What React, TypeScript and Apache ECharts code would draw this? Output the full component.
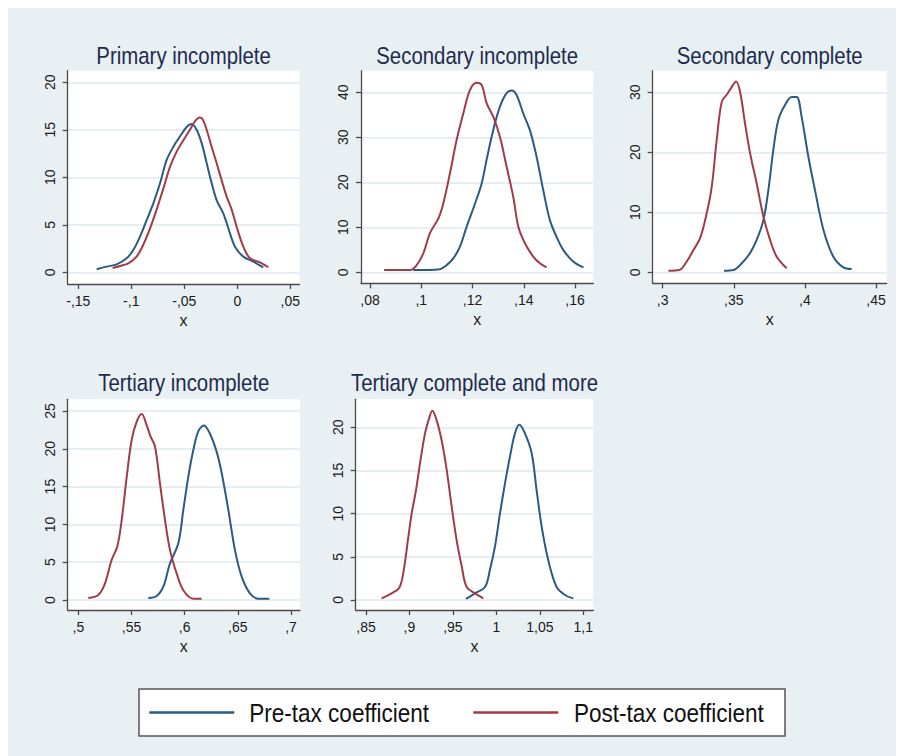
import React, { useEffect, useRef } from "react";
import * as echarts from "echarts";

// ---- data: kernel density of the coefficient, by education level ----
const panelTitles = [
  "Primary incomplete",
  "Secondary incomplete",
  "Secondary complete",
  "Tertiary incomplete",
  "Tertiary complete and more",
];

const seriesNames = ["Pre-tax coefficient", "Post-tax coefficient"];

const primaryIncompletePre: [number, number][] = [
  [-0.1327, 0.32], [-0.1233, 0.6], [-0.1138, 0.84], [-0.1044, 1.47], [-0.0981, 2.35],
  [-0.0918, 3.75], [-0.0855, 5.5], [-0.0792, 7.26], [-0.0729, 9.37], [-0.0667, 11.8],
  [-0.0604, 13.2], [-0.0541, 14.3], [-0.0478, 15.3], [-0.0431, 15.6], [-0.0384, 15.0],
  [-0.0336, 13.6], [-0.0289, 11.5], [-0.0242, 9.4], [-0.0195, 7.6], [-0.0132, 6.2],
  [-0.0069, 4.1], [-0.0022, 2.7], [0.0057, 1.65], [0.0151, 1.12], [0.0245, 0.53],
];
const primaryIncompletePost: [number, number][] = [
  [-0.1176, 0.46], [-0.1107, 0.67], [-0.1028, 0.95], [-0.095, 1.65], [-0.0887, 2.9],
  [-0.0824, 4.6], [-0.0761, 6.6], [-0.0698, 8.8], [-0.0635, 11.1], [-0.0572, 12.7],
  [-0.0509, 13.9], [-0.0447, 15.0], [-0.0399, 15.9], [-0.0358, 16.3], [-0.0327, 16.1],
  [-0.0289, 15.0], [-0.0242, 13.2], [-0.0195, 11.5], [-0.0148, 9.7], [-0.0101, 8.0],
  [-0.0053, 6.6], [-0.0006, 4.8], [0.0057, 2.7], [0.012, 1.47], [0.0214, 1.05], [0.0293, 0.53],
];

const secondaryIncompletePre: [number, number][] = [
  [0.0969, 0.5], [0.1073, 0.7], [0.1099, 1.6], [0.1125, 3.1], [0.1151, 5.7],
  [0.1177, 10.1], [0.121, 15.3], [0.1236, 19.8], [0.1255, 25.0], [0.1281, 31.6],
  [0.1307, 36.8], [0.1333, 39.8], [0.1353, 40.4], [0.1372, 39.4], [0.1398, 35.3],
  [0.1424, 31.6], [0.145, 25.7], [0.1476, 18.3], [0.1502, 11.6], [0.1528, 7.9],
  [0.1554, 5.0], [0.1593, 2.4], [0.1633, 1.1],
];
const secondaryIncompletePost: [number, number][] = [
  [0.0855, 0.5], [0.0956, 0.5], [0.0982, 1.6], [0.1008, 4.2], [0.1034, 8.7],
  [0.1067, 12.0], [0.1086, 15.3], [0.1112, 22.0], [0.1138, 29.4], [0.1164, 35.3],
  [0.119, 40.5], [0.1216, 42.1], [0.1236, 41.6], [0.1255, 37.6], [0.1281, 34.6],
  [0.1307, 30.1], [0.1333, 23.5], [0.1359, 16.8], [0.1379, 10.1], [0.1405, 6.4],
  [0.1437, 3.5], [0.1463, 2.0], [0.1489, 1.1],
];

const secondaryCompletePre: [number, number][] = [
  [0.3431, 0.28], [0.3497, 0.4], [0.3556, 1.5], [0.3614, 3.2], [0.3661, 5.4],
  [0.3708, 8.7], [0.3743, 13.7], [0.3778, 20.4], [0.3813, 25.4], [0.386, 27.9],
  [0.3907, 29.2], [0.3942, 29.2], [0.3977, 25.9], [0.4024, 19.3], [0.4071, 13.7],
  [0.413, 7.1], [0.42, 2.6], [0.427, 0.83], [0.4329, 0.56],
];
const secondaryCompletePost: [number, number][] = [
  [0.304, 0.28], [0.3117, 0.4], [0.3169, 1.8], [0.3216, 3.7], [0.3263, 5.7],
  [0.3309, 9.8], [0.3345, 14.3], [0.338, 22.1], [0.3415, 28.4], [0.345, 29.6],
  [0.3486, 30.9], [0.3516, 31.8], [0.3544, 30.1], [0.3579, 24.8], [0.3615, 19.8],
  [0.3661, 14.8], [0.3708, 9.3], [0.3755, 5.4], [0.3802, 2.6], [0.3872, 0.67],
];

const tertiaryIncompletePre: [number, number][] = [
  [0.5658, 0.26], [0.5737, 0.53], [0.5799, 1.76], [0.5862, 4.85], [0.594, 7.5],
  [0.5987, 11.9], [0.6034, 16.3], [0.6081, 19.8], [0.6128, 22.3], [0.6182, 23.1],
  [0.6238, 22.0], [0.6301, 19.6], [0.6348, 16.8], [0.6411, 11.9], [0.6473, 6.6],
  [0.6536, 3.1], [0.6614, 0.88], [0.6693, 0.18], [0.6796, 0.18],
];
const tertiaryIncompletePost: [number, number][] = [
  [0.5094, 0.26], [0.5188, 0.66], [0.5251, 2.2], [0.5313, 5.3], [0.5367, 7.1],
  [0.5408, 10.6], [0.5455, 16.3], [0.5502, 21.2], [0.5549, 23.6], [0.5596, 24.6],
  [0.5643, 23.1], [0.568, 21.6], [0.5721, 20.3], [0.5768, 15.4], [0.5815, 10.6],
  [0.5862, 6.6], [0.5925, 3.5], [0.5987, 1.3], [0.6082, 0.18], [0.616, 0.18],
];

const tertiaryCompletePre: [number, number][] = [
  [0.965, 0.12], [0.9754, 0.77], [0.9869, 1.5], [0.9926, 3.5], [0.9984, 6.2],
  [1.0041, 10.0], [1.0099, 13.5], [1.0156, 16.6], [1.0214, 19.3], [1.0264, 20.3],
  [1.0329, 19.3], [1.0406, 17.0], [1.0463, 12.7], [1.0521, 8.5], [1.0597, 4.6],
  [1.0693, 1.5], [1.0789, 0.58], [1.0885, 0.19],
];
const tertiaryCompletePost: [number, number][] = [
  [0.868, 0.19], [0.8795, 0.77], [0.8883, 1.43], [0.8929, 3.1], [0.8987, 7.3],
  [0.9025, 10.0], [0.9075, 12.7], [0.9121, 15.8], [0.9179, 19.3], [0.9225, 21.0],
  [0.9263, 21.9], [0.9313, 20.8], [0.937, 18.5], [0.9428, 15.1], [0.9486, 10.8],
  [0.9543, 6.9], [0.9601, 3.9], [0.9658, 1.5], [0.9754, 0.77], [0.985, 0.19],
];

// tick values per panel
const xTicks = [
  [-0.15, -0.1, -0.05, 0, 0.05],
  [0.08, 0.1, 0.12, 0.14, 0.16],
  [0.3, 0.35, 0.4, 0.45],
  [0.5, 0.55, 0.6, 0.65, 0.7],
  [0.85, 0.9, 0.95, 1, 1.05, 1.1],
];
const yTicks = [
  [0, 5, 10, 15, 20],
  [0, 10, 20, 30, 40],
  [0, 10, 20, 30],
  [0, 5, 10, 15, 20, 25],
  [0, 5, 10, 15, 20],
];

const preSeries = [
  primaryIncompletePre, secondaryIncompletePre, secondaryCompletePre,
  tertiaryIncompletePre, tertiaryCompletePre,
];
const postSeries = [
  primaryIncompletePost, secondaryIncompletePost, secondaryCompletePost,
  tertiaryIncompletePost, tertiaryCompletePost,
];

// ---- layout of the plot regions (pixels) and their axis extents ----
const panelBoxes = [
  { left: 59.7, top: 62.7, width: 231.8, height: 213.3, x: [-0.16, 0.0587], y: [-1.23, 21.22] },
  { left: 353, top: 62.7, width: 232.3, height: 212.6, x: [0.07649, 0.16714], y: [-2.44, 44.8] },
  { left: 644.7, top: 62.7, width: 234, height: 212.6, x: [0.29297, 0.45752], y: [-1.83, 33.6] },
  { left: 59.7, top: 391.3, width: 232.3, height: 210.7, x: [0.49, 0.70846], y: [-1.32, 26.55] },
  { left: 347.7, top: 391.3, width: 237.6, height: 210.7, x: [0.83815, 1.1115], y: [-1.16, 23.24] },
];

// legend box geometry
const legendBox = { x: 131, y: 681, width: 646, height: 47 };
const legendKeys = [
  { lineX: 141.3, textX: 241.3 },
  { lineX: 465.3, textX: 566 },
];
const KEY_LEN = 85;

const PRE_COLOR = "#2c5a84";
const POST_COLOR = "#a03c47";
const BG = "#e8f0f3";
const GRIDLINE = "#e6eef1";
const AXIS = "#4a4a4a";
const TITLE_COLOR = "#1f2b4e";
const FONT = '"Liberation Sans", Arial, Helvetica, sans-serif';
// the heading typeface is a condensed sans; emulate it by squeezing horizontally
const CONDENSE = 0.85;

// Stata-style numbers: comma decimal mark, no leading zero
function stataLabel(v: number): string {
  const r = Math.round(v * 1000) / 1000;
  if (r === 0) return "0";
  let s = String(Math.abs(r));
  if (s.startsWith("0")) s = s.slice(1);
  s = s.replace(".", ",");
  return (r < 0 ? "-" : "") + s;
}

function buildOption(): echarts.EChartsOption {
  const grid: any[] = [];
  const xAxis: any[] = [];
  const yAxis: any[] = [];
  const series: any[] = [];
  const graphic: any[] = [];

  panelBoxes.forEach((b, i) => {
    grid.push({
      left: b.left,
      top: b.top,
      width: b.width,
      height: b.height,
      show: true,
      backgroundColor: "#ffffff",
      borderWidth: 0,
      containLabel: false,
      outerBoundsMode: "none",
    });
    xAxis.push({
      type: "value",
      gridIndex: i,
      min: b.x[0],
      max: b.x[1],
      axisLine: { show: true, onZero: false, lineStyle: { color: AXIS, width: 1.3 } },
      axisTick: { show: true, length: 5, customValues: xTicks[i], lineStyle: { color: AXIS, width: 1.3 } },
      axisLabel: {
        customValues: xTicks[i],
        formatter: (v: number) => stataLabel(v),
        fontSize: 14,
        fontFamily: FONT,
        color: "#1a1a1a",
        margin: 10,
      },
      splitLine: { show: false },
      name: "x",
      nameLocation: "middle",
      nameGap: 28,
      nameTextStyle: { fontSize: 16, fontFamily: FONT, color: "#1a1a1a" },
    });
    yAxis.push({
      type: "value",
      gridIndex: i,
      min: b.y[0],
      max: b.y[1],
      axisLine: { show: true, onZero: false, lineStyle: { color: AXIS, width: 1.3 } },
      axisTick: { show: true, length: 5, customValues: yTicks[i], lineStyle: { color: AXIS, width: 1.3 } },
      axisLabel: {
        customValues: yTicks[i],
        formatter: (v: number) => stataLabel(v),
        rotate: 90,
        fontSize: 14,
        fontFamily: FONT,
        color: "#1a1a1a",
        margin: 11,
      },
      splitLine: { show: true, lineStyle: { color: GRIDLINE, width: 2 } },
    });
    series.push({
      name: seriesNames[0],
      type: "line",
      xAxisIndex: i,
      yAxisIndex: i,
      data: preSeries[i],
      color: PRE_COLOR,
      showSymbol: false,
      symbol: "none",
      smooth: 0.35,
      lineStyle: { width: 2, color: PRE_COLOR },
      z: 3,
    });
    series.push({
      name: seriesNames[1],
      type: "line",
      xAxisIndex: i,
      yAxisIndex: i,
      data: postSeries[i],
      color: POST_COLOR,
      showSymbol: false,
      symbol: "none",
      smooth: 0.35,
      lineStyle: { width: 2, color: POST_COLOR },
      z: 3,
    });
    // panel heading, centred over its plot region
    const titleY = i < 3 ? 47.8 : 375.3;
    graphic.push({
      type: "text",
      x: b.left + b.width / 2,
      y: titleY,
      scaleX: CONDENSE,
      style: {
        text: panelTitles[i],
        fontSize: 24,
        fontFamily: FONT,
        fill: TITLE_COLOR,
        align: "center",
        verticalAlign: "middle",
      },
    });
  });

  // legend: framed box with a line key and label per series
  const keyY = legendBox.y + legendBox.height / 2;
  graphic.push({
    type: "rect",
    shape: { x: legendBox.x, y: legendBox.y, width: legendBox.width, height: legendBox.height },
    style: { fill: "#ffffff", stroke: "#555555", lineWidth: 1.5 },
    z: 10,
  });
  [PRE_COLOR, POST_COLOR].forEach((c, k) => {
    graphic.push({
      type: "line",
      shape: { x1: legendKeys[k].lineX, y1: keyY, x2: legendKeys[k].lineX + KEY_LEN, y2: keyY },
      style: { stroke: c, lineWidth: 2.5 },
      z: 11,
    });
    graphic.push({
      type: "text",
      x: legendKeys[k].textX,
      y: keyY + 0.5,
      scaleX: CONDENSE,
      style: {
        text: seriesNames[k],
        fontSize: 26.5,
        fontFamily: FONT,
        fill: "#111111",
        align: "left",
        verticalAlign: "middle",
      },
      z: 11,
    });
  });

  return {
    animation: false,
    backgroundColor: BG,
    grid,
    xAxis,
    yAxis,
    series,
    graphic,
  };
}

export default function App() {
  const ref = useRef<HTMLDivElement>(null);

  useEffect(() => {
    document.body.style.overflow = "hidden";
    document.documentElement.style.overflow = "hidden";
    if (!ref.current) return;
    const chart = echarts.init(ref.current, undefined, { renderer: "svg" });
    chart.setOption(buildOption());
    return () => {
      chart.dispose();
    };
  }, []);

  return <div ref={ref} style={{ width: 896, height: 748 }} />;
}
